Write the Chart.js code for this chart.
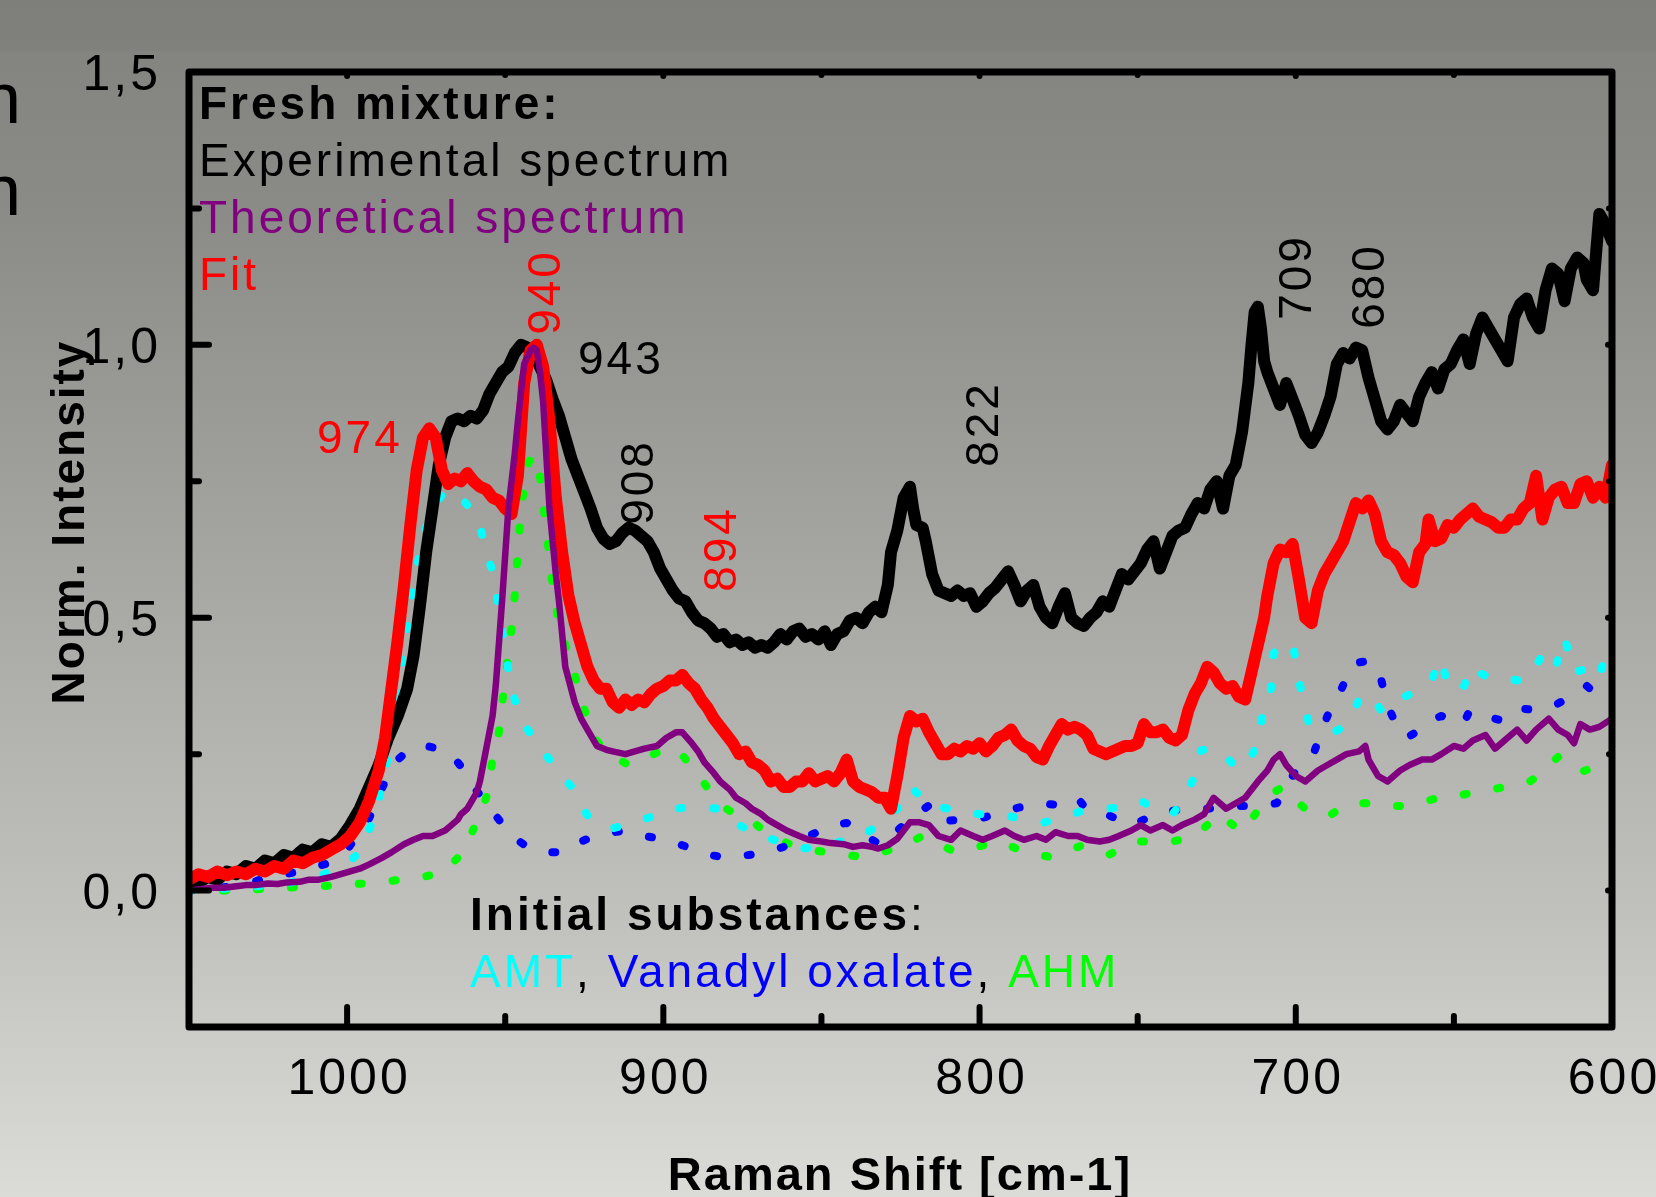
<!DOCTYPE html>
<html><head><meta charset="utf-8">
<script src="https://cdn.jsdelivr.net/npm/chart.js@4.4.0/dist/chart.umd.min.js"></script>
<style>html,body{margin:0;padding:0;overflow:hidden;background:#a5a5a1}canvas{display:block}</style>
</head><body>
<canvas id="c" width="1656" height="1197" style="width:1656px;height:1197px"></canvas>
<script>
// ---------- DATA (Raman shift [cm-1], normalized intensity) ----------
const experimental = [
[1050,0.01],[1047,0.015],[1044,0.025],[1041,0.02],[1038,0.035],[1035,0.03],[1032,0.045],[1029,0.04],[1026,0.055],[1023,0.05],[1020,0.065],[1017,0.06],[1014,0.075],[1011,0.07],[1008,0.085],[1005,0.08],[1002,0.095],[999,0.12],[996,0.15],[993,0.19],[990,0.23],[987,0.28],[984,0.32],[981,0.37],[979,0.43],[977,0.52],[975,0.62],[973,0.70],[971,0.78],[969,0.83],[967,0.86],[965,0.865],[963,0.86],[961,0.87],[959,0.865],[957,0.88],[955,0.91],[953,0.93],[951,0.95],[949,0.96],[947,0.985],[945,1.0],[943,0.995],[941,0.985],[939,0.96],[937,0.935],[935,0.9],[933,0.87],[931,0.83],[929,0.79],[927,0.76],[925,0.73],[923,0.70],[921,0.665],[919,0.645],[917,0.635],[915,0.64],[913,0.655],[911,0.665],[909,0.66],[907,0.65],[905,0.64],[903,0.62],[901,0.59],[899,0.57],[897,0.55],[895,0.535],[893,0.53],[891,0.51],[889,0.495],[887,0.49],[885,0.48],[883,0.465],[881,0.47],[879,0.455],[877,0.46],[875,0.45],[873,0.455],[871,0.445],[869,0.45],[867,0.445],[865,0.455],[863,0.47],[861,0.46],[859,0.475],[857,0.48],[855,0.465],[853,0.47],[851,0.46],[849,0.475],[847,0.45],[845,0.47],[843,0.475],[841,0.495],[839,0.5],[837,0.49],[835,0.51],[833,0.52],[831,0.51],[829,0.56],[828,0.62],[826,0.66],[824,0.72],[822,0.74],[821,0.70],[820,0.67],[818,0.665],[817,0.64],[815,0.58],[813,0.55],[811,0.545],[809,0.54],[807,0.55],[805,0.54],[803,0.545],[801,0.52],[799,0.53],[797,0.545],[795,0.555],[793,0.57],[791,0.585],[789,0.56],[787,0.53],[785,0.55],[783,0.56],[781,0.52],[779,0.50],[777,0.49],[775,0.52],[773,0.545],[771,0.5],[769,0.49],[767,0.485],[765,0.50],[763,0.51],[761,0.53],[759,0.52],[757,0.55],[755,0.58],[753,0.57],[751,0.585],[749,0.60],[747,0.625],[745,0.64],[743,0.59],[741,0.62],[739,0.65],[737,0.66],[735,0.665],[733,0.69],[731,0.71],[729,0.70],[727,0.735],[725,0.75],[723,0.70],[721,0.76],[719,0.78],[717,0.84],[715,0.93],[714,1.0],[713,1.06],[712,1.07],[711,1.03],[710,0.97],[709,0.95],[707,0.92],[705,0.89],[703,0.93],[701,0.90],[699,0.87],[697,0.835],[695,0.82],[693,0.84],[691,0.87],[689,0.905],[687,0.965],[685,0.985],[683,0.975],[681,0.995],[679,0.99],[677,0.94],[675,0.90],[673,0.86],[671,0.845],[669,0.86],[667,0.89],[665,0.875],[663,0.86],[661,0.905],[659,0.93],[657,0.95],[655,0.92],[653,0.955],[651,0.965],[649,0.99],[647,1.01],[645,0.965],[643,1.02],[641,1.05],[639,1.03],[637,1.01],[635,0.99],[633,0.97],[631,1.05],[629,1.075],[627,1.085],[625,1.05],[623,1.03],[621,1.10],[619,1.14],[617,1.13],[615,1.08],[613,1.14],[611,1.16],[609,1.15],[608,1.12],[606,1.10],[605,1.17],[604,1.24],[602,1.22],[600,1.19]
];
const fit = [
[1050,0.02],[1047,0.03],[1044,0.025],[1041,0.035],[1038,0.028],[1035,0.035],[1032,0.03],[1029,0.04],[1026,0.035],[1023,0.045],[1020,0.04],[1017,0.055],[1014,0.05],[1011,0.06],[1008,0.065],[1005,0.075],[1002,0.085],[999,0.1],[996,0.125],[993,0.165],[990,0.22],[988,0.28],[986,0.37],[984,0.46],[982,0.56],[980,0.67],[978,0.77],[976,0.83],[974,0.847],[972,0.83],[970,0.77],[968,0.745],[966,0.755],[964,0.75],[962,0.765],[960,0.75],[958,0.74],[956,0.735],[954,0.72],[952,0.715],[950,0.70],[948,0.69],[946,0.76],[944,0.93],[942,0.99],[940,1.0],[938,0.96],[936,0.86],[934,0.72],[932,0.62],[930,0.54],[928,0.49],[926,0.45],[924,0.41],[922,0.385],[920,0.37],[918,0.37],[916,0.345],[914,0.335],[912,0.35],[910,0.34],[908,0.35],[906,0.345],[904,0.36],[902,0.37],[900,0.375],[898,0.385],[896,0.385],[894,0.395],[892,0.38],[890,0.37],[888,0.35],[886,0.335],[884,0.315],[882,0.3],[880,0.285],[878,0.27],[876,0.25],[874,0.255],[872,0.235],[870,0.23],[868,0.22],[866,0.2],[864,0.205],[862,0.19],[860,0.19],[858,0.2],[856,0.2],[854,0.215],[852,0.2],[850,0.205],[848,0.21],[846,0.2],[844,0.215],[842,0.24],[840,0.2],[838,0.19],[836,0.185],[834,0.18],[832,0.17],[830,0.17],[828,0.15],[826,0.21],[824,0.28],[822,0.32],[820,0.31],[818,0.315],[816,0.29],[814,0.27],[812,0.25],[810,0.25],[808,0.26],[806,0.255],[804,0.265],[802,0.26],[800,0.27],[798,0.255],[796,0.265],[794,0.28],[792,0.285],[790,0.295],[788,0.275],[786,0.265],[784,0.26],[782,0.245],[780,0.24],[778,0.265],[776,0.285],[774,0.305],[772,0.295],[770,0.3],[768,0.295],[766,0.285],[764,0.26],[762,0.255],[760,0.25],[758,0.255],[756,0.26],[754,0.265],[752,0.265],[750,0.27],[748,0.305],[746,0.29],[744,0.29],[742,0.295],[740,0.28],[738,0.275],[736,0.285],[734,0.33],[732,0.36],[730,0.38],[728,0.41],[726,0.40],[724,0.38],[722,0.37],[720,0.375],[718,0.355],[716,0.35],[714,0.40],[712,0.45],[710,0.50],[709,0.54],[707,0.60],[705,0.625],[703,0.62],[701,0.635],[699,0.57],[697,0.50],[695,0.49],[693,0.55],[691,0.58],[689,0.60],[687,0.62],[685,0.64],[683,0.675],[681,0.71],[679,0.70],[677,0.715],[675,0.69],[673,0.64],[671,0.62],[669,0.615],[667,0.60],[665,0.575],[663,0.565],[661,0.62],[659,0.635],[658,0.68],[656,0.64],[654,0.645],[652,0.67],[650,0.665],[648,0.68],[646,0.69],[644,0.70],[642,0.685],[640,0.68],[638,0.675],[636,0.665],[634,0.665],[632,0.68],[630,0.68],[628,0.70],[626,0.71],[624,0.76],[622,0.68],[620,0.72],[618,0.735],[616,0.74],[614,0.71],[612,0.71],[610,0.745],[608,0.75],[606,0.72],[604,0.74],[602,0.72],[600,0.78]
];
const theoretical = [
[1050,0.0],[1046,0.003],[1043,0.005],[1039,0.005],[1035,0.008],[1032,0.01],[1029,0.01],[1025,0.013],[1022,0.012],[1019,0.015],[1015,0.016],[1012,0.02],[1009,0.02],[1005,0.025],[1002,0.03],[999,0.035],[996,0.04],[993,0.048],[989,0.06],[986,0.07],[982,0.085],[979,0.093],[976,0.10],[973,0.10],[971,0.105],[969,0.11],[967,0.12],[965,0.13],[964,0.14],[962,0.15],[961,0.16],[959,0.18],[958,0.20],[956,0.26],[954,0.32],[953,0.375],[951,0.53],[949,0.70],[947,0.80],[946,0.86],[944,0.965],[942,0.99],[941,0.995],[940,0.99],[939,0.95],[938,0.895],[936,0.70],[934,0.58],[933,0.53],[931,0.41],[928,0.345],[926,0.315],[924,0.295],[921,0.265],[918,0.258],[916,0.255],[912,0.25],[909,0.255],[906,0.26],[902,0.265],[899,0.28],[896,0.29],[894,0.29],[891,0.27],[889,0.255],[887,0.235],[884,0.215],[882,0.20],[879,0.185],[877,0.17],[874,0.16],[872,0.15],[869,0.14],[867,0.13],[864,0.12],[861,0.11],[857,0.10],[854,0.093],[850,0.09],[847,0.087],[843,0.085],[840,0.08],[837,0.083],[834,0.08],[832,0.077],[829,0.083],[826,0.095],[824,0.11],[822,0.125],[819,0.125],[816,0.12],[813,0.10],[809,0.093],[806,0.11],[802,0.10],[799,0.093],[796,0.10],[792,0.11],[789,0.10],[786,0.093],[782,0.10],[779,0.093],[776,0.107],[772,0.10],[769,0.10],[766,0.093],[762,0.09],[759,0.093],[756,0.10],[752,0.11],[749,0.12],[746,0.11],[742,0.12],[739,0.11],[736,0.12],[732,0.13],[729,0.14],[726,0.17],[722,0.15],[719,0.16],[716,0.17],[712,0.20],[709,0.22],[707,0.24],[705,0.25],[703,0.23],[700,0.21],[697,0.20],[695,0.21],[693,0.22],[690,0.23],[687,0.24],[684,0.25],[680,0.255],[678,0.265],[677,0.24],[674,0.21],[671,0.20],[669,0.21],[667,0.22],[664,0.23],[660,0.24],[657,0.24],[654,0.25],[650,0.265],[647,0.26],[644,0.275],[640,0.285],[637,0.26],[634,0.275],[630,0.295],[627,0.275],[624,0.295],[620,0.315],[617,0.295],[614,0.285],[612,0.27],[610,0.305],[607,0.295],[604,0.30],[600,0.315]
];
const amt = [
[1050,0.0],[1040,0.003],[1032,0.006],[1020,0.012],[1010,0.025],[1006,0.033],[1000,0.05],[996,0.07],[991,0.14],[988,0.22],[985,0.31],[982,0.45],[979,0.56],[976,0.65],[973,0.70],[970,0.725],[967,0.735],[964,0.72],[961,0.70],[958,0.67],[956,0.62],[954,0.585],[952,0.515],[950,0.44],[948,0.37],[946,0.33],[944,0.305],[940,0.27],[936,0.24],[932,0.21],[929,0.19],[926,0.155],[923,0.13],[919,0.118],[916,0.114],[912,0.12],[908,0.127],[904,0.135],[900,0.145],[896,0.15],[892,0.153],[887,0.152],[882,0.15],[877,0.124],[872,0.106],[865,0.093],[857,0.077],[850,0.08],[844,0.09],[838,0.097],[832,0.12],[826,0.15],[822,0.19],[818,0.17],[814,0.155],[810,0.15],[806,0.147],[800,0.14],[793,0.14],[786,0.13],[780,0.124],[774,0.135],[768,0.145],[760,0.15],[754,0.153],[749,0.164],[744,0.15],[739,0.14],[735,0.17],[732,0.21],[730,0.257],[727,0.26],[724,0.257],[720,0.233],[716,0.224],[712,0.27],[710,0.34],[708,0.36],[707,0.435],[705,0.447],[701,0.455],[699,0.385],[696,0.31],[692,0.30],[688,0.29],[685,0.30],[682,0.327],[679,0.36],[676,0.355],[673,0.33],[669,0.335],[666,0.354],[661,0.368],[657,0.387],[654,0.425],[652,0.375],[650,0.367],[647,0.37],[645,0.41],[642,0.40],[639,0.39],[634,0.39],[630,0.385],[626,0.39],[622,0.433],[618,0.406],[615,0.464],[612,0.4],[609,0.405],[606,0.406],[604,0.39],[602,0.437],[600,0.44]
];
const vanadylOxalate = [
[1050,0.0],[1040,0.005],[1030,0.015],[1026,0.023],[1015,0.035],[1006,0.05],[1001,0.066],[997,0.1],[993,0.133],[988,0.2],[984,0.24],[980,0.26],[975,0.265],[971,0.26],[967,0.25],[963,0.22],[960,0.19],[956,0.16],[952,0.13],[948,0.1],[943,0.08],[938,0.07],[932,0.07],[928,0.085],[923,0.097],[918,0.105],[912,0.11],[906,0.1],[899,0.093],[894,0.083],[890,0.075],[885,0.065],[880,0.06],[872,0.066],[866,0.072],[862,0.08],[856,0.095],[851,0.108],[846,0.12],[842,0.124],[836,0.1],[831,0.083],[826,0.11],[820,0.14],[815,0.16],[810,0.128],[805,0.13],[801,0.13],[795,0.14],[789,0.15],[784,0.157],[780,0.16],[776,0.157],[772,0.165],[769,0.17],[766,0.147],[760,0.14],[756,0.13],[752,0.12],[748,0.13],[745,0.14],[740,0.145],[735,0.15],[728,0.15],[720,0.155],[712,0.155],[706,0.16],[703,0.19],[700,0.22],[697,0.24],[694,0.257],[690,0.32],[687,0.35],[684,0.39],[682,0.416],[678,0.42],[674,0.41],[671,0.34],[668,0.30],[665,0.28],[662,0.29],[658,0.31],[654,0.32],[650,0.31],[647,0.305],[645,0.33],[640,0.32],[634,0.31],[628,0.333],[623,0.33],[618,0.34],[613,0.355],[608,0.375],[605,0.36],[602,0.35],[600,0.34]
];
const ahm = [
[1050,0.0],[1040,0.0],[1030,0.002],[1020,0.005],[1010,0.008],[1000,0.01],[997,0.012],[990,0.015],[983,0.02],[976,0.025],[970,0.033],[965,0.06],[961,0.1],[958,0.14],[956,0.17],[954,0.24],[952,0.29],[950,0.39],[948,0.48],[947,0.54],[946,0.62],[945,0.7],[943,0.78],[941,0.8],[939,0.76],[937,0.66],[935,0.56],[933,0.49],[931,0.45],[929,0.42],[926,0.35],[922,0.28],[917,0.25],[911,0.23],[905,0.245],[899,0.26],[895,0.255],[890,0.22],[885,0.18],[880,0.15],[876,0.135],[872,0.127],[866,0.1],[860,0.085],[854,0.075],[848,0.07],[842,0.065],[837,0.062],[831,0.07],[825,0.08],[818,0.1],[813,0.085],[808,0.072],[801,0.08],[793,0.09],[786,0.07],[778,0.062],[773,0.07],[768,0.082],[763,0.075],[759,0.066],[754,0.08],[749,0.09],[744,0.09],[739,0.09],[735,0.095],[732,0.1],[728,0.12],[725,0.14],[721,0.125],[717,0.108],[714,0.13],[710,0.164],[707,0.18],[704,0.19],[700,0.165],[697,0.15],[693,0.14],[690,0.135],[686,0.15],[682,0.16],[678,0.16],[674,0.16],[670,0.155],[666,0.155],[662,0.16],[658,0.165],[655,0.17],[652,0.17],[648,0.175],[643,0.18],[638,0.185],[634,0.19],[630,0.195],[626,0.2],[622,0.215],[619,0.235],[617,0.245],[614,0.23],[610,0.217],[606,0.225],[603,0.23],[600,0.235]
];
// axis ticks
const xTickValues = [1000, 900, 800, 700, 600];
const xTickLabels = ['1000', '900', '800', '700', '600'];
const xMinorTicks = [950, 850, 750, 650];
const yTickValues = [0, 0.5, 1.0, 1.5];
const yTickLabels = ['0,0', '0,5', '1,0', '1,5'];
const yMinorTicks = [0.25, 0.75, 1.25];
const xTitle = 'Raman Shift [cm-1]';
const yTitle = 'Norm. Intensity';
// annotations
const peakLabels = [
  {text:'974', color:'#ff0000', px:317, py:453, rot:false},
  {text:'943', color:'#000000', px:578, py:374, rot:false},
  {text:'940', color:'#ff0000', px:560, py:292, rot:true},
  {text:'908', color:'#000000', px:653, py:482, rot:true},
  {text:'894', color:'#ff0000', px:736, py:549, rot:true},
  {text:'822', color:'#000000', px:998, py:424, rot:true},
  {text:'709', color:'#000000', px:1311, py:277, rot:true},
  {text:'680', color:'#000000', px:1384, py:286, rot:true}
];

// ---------- RENDER ----------
const FONT = '"Liberation Sans", Arial, Helvetica, sans-serif';
const toPts = arr => arr.map(p => ({x: p[0], y: p[1]}));

function line(ctx, x1, y1, x2, y2) { ctx.beginPath(); ctx.moveTo(x1, y1); ctx.lineTo(x2, y2); ctx.stroke(); }

const decor = {
  id: 'decor',
  beforeDraw(chart) {
    const {ctx, width, height} = chart;
    ctx.save();
    const g = ctx.createLinearGradient(0, 0, 0, height);
    g.addColorStop(0, '#7e7e7a');
    g.addColorStop(0.04, '#80807c');
    g.addColorStop(0.045, '#848480');
    g.addColorStop(0.17, '#8a8a86');
    g.addColorStop(0.5, '#a8a8a4');
    g.addColorStop(0.78, '#c2c2be');
    g.addColorStop(1, '#dbdbd7');
    ctx.fillStyle = g;
    ctx.fillRect(0, 0, width, height);
    ctx.fillStyle = '#000';
    ctx.font = '72px ' + FONT;
    ctx.textBaseline = 'alphabetic';
    ctx.fillText('n', -19, 123);
    ctx.fillText('n', -19, 215);
    ctx.restore();
  },
  afterDraw(chart) {
    const {ctx, chartArea: a, scales: {x, y}} = chart;
    ctx.save();
    // frame
    ctx.strokeStyle = '#000';
    ctx.lineWidth = 7;
    ctx.lineJoin = 'round';
    ctx.strokeRect(a.left, a.top, a.right - a.left, a.bottom - a.top);
    // ticks (inward)
    ctx.lineWidth = 6;
    ctx.lineCap = 'round';
    xTickValues.forEach(v => { const px = x.getPixelForValue(v); line(ctx, px, a.bottom, px, a.bottom - 20); line(ctx, px, a.top, px, a.top + 4); });
    xMinorTicks.forEach(v => { const px = x.getPixelForValue(v); line(ctx, px, a.bottom, px, a.bottom - 11); line(ctx, px, a.top, px, a.top + 3); });
    yTickValues.forEach(v => { const py = y.getPixelForValue(v); line(ctx, a.left, py, a.left + 20, py); line(ctx, a.right, py, a.right - 4, py); });
    yMinorTicks.forEach(v => { const py = y.getPixelForValue(v); line(ctx, a.left, py, a.left + 10, py); line(ctx, a.right, py, a.right - 3, py); });
    // tick labels
    ctx.letterSpacing = '3px';
    ctx.fillStyle = '#000';
    ctx.font = '50px ' + FONT;
    ctx.textBaseline = 'alphabetic';
    ctx.textAlign = 'center';
    xTickValues.forEach((v, i) => ctx.fillText(xTickLabels[i], x.getPixelForValue(v) + 2, 1094));
    ctx.textAlign = 'right';
    yTickValues.forEach((v, i) => ctx.fillText(yTickLabels[i], 161, y.getPixelForValue(v) + 18));
    // axis titles
    ctx.letterSpacing = '2px';
    ctx.font = 'bold 47px ' + FONT;
    ctx.textAlign = 'center';
    ctx.fillText(xTitle, 900, 1190);
    ctx.save();
    ctx.translate(84, 522);
    ctx.rotate(-Math.PI / 2);
    ctx.font = 'bold 46px ' + FONT;
    ctx.fillText(yTitle, 0, 0);
    ctx.restore();
    ctx.letterSpacing = '3px';
    // legend-like text block
    ctx.textAlign = 'left';
    ctx.font = 'bold 46px ' + FONT;
    ctx.fillStyle = '#000';
    ctx.fillText('Fresh mixture:', 199, 119);
    ctx.font = '46px ' + FONT;
    ctx.fillStyle = '#000000'; ctx.fillText('Experimental spectrum', 199, 176);
    ctx.fillStyle = '#800080'; ctx.fillText('Theoretical spectrum', 199, 233);
    ctx.fillStyle = '#ff0000'; ctx.fillText('Fit', 199, 290);
    // initial substances
    let cx = 470;
    ctx.font = 'bold 46px ' + FONT; ctx.fillStyle = '#000';
    ctx.fillText('Initial substances', cx, 930);
    cx += ctx.measureText('Initial substances').width;
    ctx.font = '46px ' + FONT;
    ctx.fillText(':', cx, 930);
    const parts = [['AMT', '#00ffff'], [', ', '#000'], ['Vanadyl oxalate', '#0000ff'], [', ', '#000'], ['AHM', '#00ff00']];
    cx = 470;
    parts.forEach(p => { ctx.fillStyle = p[1]; ctx.fillText(p[0], cx, 987); cx += ctx.measureText(p[0]).width; });
    // peak labels
    ctx.font = '46px ' + FONT;
    peakLabels.forEach(l => {
      ctx.fillStyle = l.color;
      if (l.rot) {
        ctx.save(); ctx.translate(l.px, l.py); ctx.rotate(-Math.PI / 2);
        ctx.textAlign = 'center'; ctx.fillText(l.text, 0, 0); ctx.restore();
      } else {
        ctx.textAlign = 'left'; ctx.fillText(l.text, l.px, l.py);
      }
    });
    ctx.restore();
  }
};

const dotted = (label, arr, color, order) => ({
  label, data: toPts(arr), borderColor: color, backgroundColor: color,
  borderWidth: 8, borderDash: [3, 31], borderCapStyle: 'round', borderJoinStyle: 'round',
  pointRadius: 0, tension: 0, order
});

new Chart(document.getElementById('c'), {
  type: 'line',
  data: {
    datasets: [
      {label: 'Theoretical spectrum', data: toPts(theoretical), borderColor: '#800080', borderWidth: 6.5, pointRadius: 0, tension: 0, borderJoinStyle: 'round', order: 0},
      {label: 'Fit', data: toPts(fit), borderColor: '#ff0000', borderWidth: 12, pointRadius: 0, tension: 0, borderJoinStyle: 'round', borderCapStyle: 'round', order: 1},
      {label: 'Experimental spectrum', data: toPts(experimental), borderColor: '#000000', borderWidth: 12, pointRadius: 0, tension: 0, borderJoinStyle: 'round', borderCapStyle: 'round', order: 2},
      dotted('AMT', amt, '#00ffff', 3),
      dotted('Vanadyl oxalate', vanadylOxalate, '#0000ff', 4),
      dotted('AHM', ahm, '#00ff00', 5)
    ]
  },
  options: {
    responsive: false,
    devicePixelRatio: 1,
    animation: false,
    layout: {padding: {left: 189, right: 44, top: 72, bottom: 170}},
    scales: {
      x: {type: 'linear', min: 600, max: 1050, reverse: true, display: false},
      y: {type: 'linear', min: -0.25, max: 1.5, display: false}
    },
    plugins: {legend: {display: false}, tooltip: {enabled: false}, title: {display: false}}
  },
  plugins: [decor]
});
</script>
</body></html>
